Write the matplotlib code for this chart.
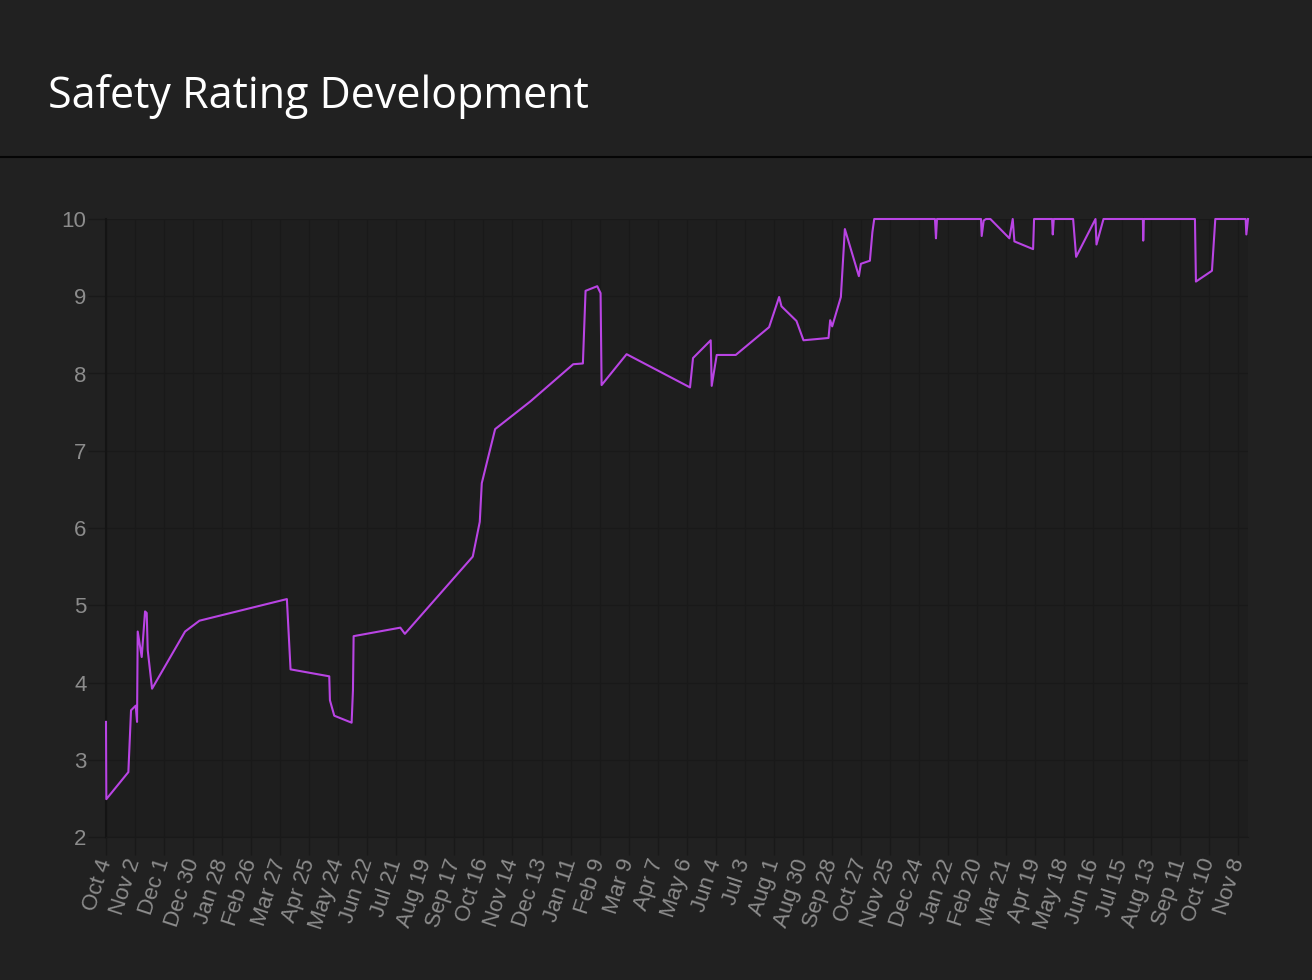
import matplotlib
matplotlib.use("Agg")
import matplotlib.pyplot as plt
import pandas as pd
from matplotlib.lines import Line2D

# Safety rating entries (timestamp, rating)
rating_times = [
    "2018-10-04 00:00", "2018-10-04 08:00", "2018-10-26 08:00", "2018-10-29 00:00",
    "2018-11-02 16:00", "2018-11-04 00:00", "2018-11-04 16:00", "2018-11-08 16:00",
    "2018-11-12 00:00", "2018-11-13 16:00", "2018-11-14 16:00", "2018-11-19 00:00",
    "2018-12-22 00:00", "2019-01-05 08:00", "2019-04-02 16:00", "2019-04-06 08:00",
    "2019-05-15 00:00", "2019-05-15 16:00", "2019-05-20 00:00", "2019-06-06 08:00",
    "2019-06-07 16:00", "2019-06-08 08:00", "2019-07-25 00:00", "2019-07-29 12:00",
    "2019-10-05 08:00", "2019-10-12 08:00", "2019-10-14 08:00", "2019-10-27 16:00",
    "2019-12-02 00:00", "2020-01-13 16:00", "2020-01-23 08:00", "2020-01-26 00:00",
    "2020-02-06 16:00", "2020-02-10 00:00", "2020-02-11 00:00", "2020-03-07 00:00",
    "2020-05-09 08:00", "2020-05-12 08:00", "2020-05-30 00:00", "2020-05-31 00:00",
    "2020-06-05 00:00", "2020-06-24 00:00", "2020-07-27 08:00", "2020-08-06 08:00",
    "2020-08-08 16:00", "2020-08-23 16:00", "2020-08-30 16:00", "2020-09-24 16:00",
    "2020-09-26 08:00", "2020-09-28 08:00", "2020-10-07 00:00", "2020-10-11 00:00",
    "2020-10-25 00:00", "2020-10-27 00:00", "2020-11-05 00:00", "2020-11-07 12:00",
    "2020-11-09 08:00", "2021-01-09 00:00", "2021-01-10 00:00", "2021-01-11 00:00",
    "2021-02-24 00:00", "2021-02-24 16:00", "2021-02-26 16:00", "2021-03-01 00:00",
    "2021-03-05 08:00", "2021-03-24 08:00", "2021-03-27 16:00", "2021-03-29 08:00",
    "2021-04-17 00:00", "2021-04-18 00:00", "2021-05-06 00:00", "2021-05-06 16:00",
    "2021-05-07 16:00", "2021-05-27 00:00", "2021-05-30 00:00", "2021-06-18 08:00",
    "2021-06-19 08:00", "2021-06-26 08:00", "2021-08-04 16:00", "2021-08-05 00:00",
    "2021-08-05 16:00", "2021-09-25 16:00", "2021-09-26 16:00", "2021-10-12 16:00",
    "2021-10-16 00:00", "2021-11-15 08:00", "2021-11-16 00:00", "2021-11-17 16:00",
]
ratings = [
    3.49, 2.49, 2.84, 3.64,
    3.70, 3.49, 4.66, 4.33,
    4.92, 4.90, 4.42, 3.92,
    4.66, 4.80, 5.08, 4.17,
    4.08, 3.77, 3.57, 3.48,
    3.90, 4.60, 4.71, 4.63,
    5.63, 6.08, 6.58, 7.28,
    7.64, 8.12, 8.13, 9.07,
    9.13, 9.04, 7.85, 8.25,
    7.82, 8.20, 8.43, 7.84,
    8.24, 8.24, 8.60, 8.99,
    8.87, 8.68, 8.43, 8.46,
    8.69, 8.61, 8.99, 9.87,
    9.26, 9.42, 9.46, 9.83,
    10.0, 10.0, 9.75, 10.0,
    10.0, 9.78, 9.98, 10.0,
    10.0, 9.75, 10.0, 9.71,
    9.61, 10.0, 10.0, 9.80,
    10.0, 10.0, 9.51, 10.0,
    9.67, 10.0, 10.0, 9.72,
    10.0, 10.0, 9.19, 9.33,
    10.0, 10.0, 9.80, 10.0,
]

tick_start = "2018-10-04"
tick_labels = [
    "Oct 4", "Nov 2", "Dec 1", "Dec 30", "Jan 28", "Feb 26", "Mar 27", "Apr 25",
    "May 24", "Jun 22", "Jul 21", "Aug 19", "Sep 17", "Oct 16", "Nov 14", "Dec 13",
    "Jan 11", "Feb 9", "Mar 9", "Apr 7", "May 6", "Jun 4", "Jul 3", "Aug 1",
    "Aug 30", "Sep 28", "Oct 27", "Nov 25", "Dec 24", "Jan 22", "Feb 20", "Mar 21",
    "Apr 19", "May 18", "Jun 16", "Jul 15", "Aug 13", "Sep 11", "Oct 10", "Nov 8",
]
y_ticks = [2, 3, 4, 5, 6, 7, 8, 9, 10]

times = pd.to_datetime(rating_times)
tick_pos = pd.date_range(tick_start, periods=len(tick_labels), freq="29D")

bg = "#212121"
plot_bg = "#1e1e1e"
grid_c = "#191919"
label_c = "#8c8c8c"

fig = plt.figure(figsize=(13.12, 9.8), dpi=100, facecolor=bg)
ax = fig.add_axes([106 / 1312, 1 - 837 / 980, (1248 - 106) / 1312, (837 - 219) / 980])
ax.set_facecolor(plot_bg)

ax.plot(times, ratings, color="#b944e4", linewidth=1.5, clip_on=False, zorder=3)

ax.set_xlim(times.min(), times.max())
ax.set_ylim(2, 10)
ax.set_yticks(y_ticks)
ax.set_xticks(tick_pos)
ax.set_xticklabels(tick_labels, rotation=72, ha="right", va="center",
                   rotation_mode="anchor")

ax.grid(True, color=grid_c, linewidth=1.0)
ax.set_axisbelow(True)
ax.tick_params(axis="both", colors=grid_c, length=13, width=1.0,
               labelcolor=label_c, labelsize=16)
ax.tick_params(axis="x", pad=3)
ax.tick_params(axis="y", pad=1)
for lab in ax.get_xticklabels() + ax.get_yticklabels():
    lab.set_fontfamily("Liberation Sans")

for side in ["top", "right"]:
    ax.spines[side].set_visible(False)
ax.spines["bottom"].set_color(grid_c)
ax.spines["left"].set_color("#141414")
ax.spines["left"].set_linewidth(1.5)

# header with title and separator line
fig.text(48 / 1312, 1 - 108 / 980, "Safety Rating Development", color="white",
         fontsize=31, fontfamily="Open Sans", va="baseline", ha="left")
fig.add_artist(Line2D([0, 1], [1 - 157 / 980] * 2, transform=fig.transFigure,
                      color="#050505", linewidth=1.5))

fig.savefig("out.png", dpi=100, facecolor=bg)
